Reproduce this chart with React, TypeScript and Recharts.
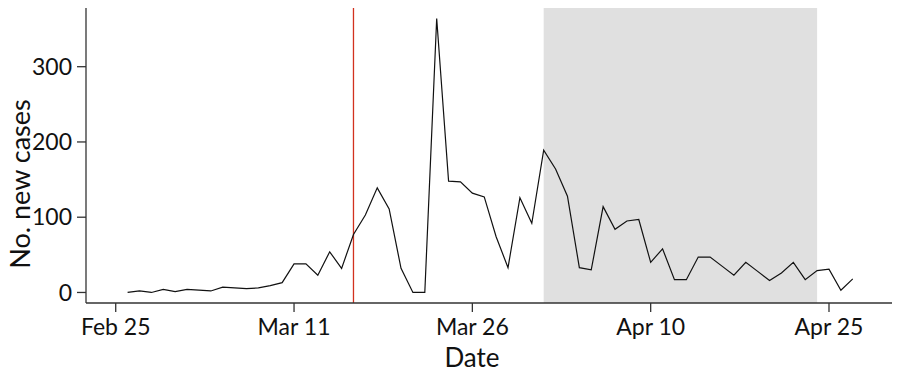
import { LineChart, Line, XAxis, YAxis, ReferenceArea, ReferenceLine } from "recharts";

// daily new cases, starting Feb 26 (day 1 = one day after Feb 25)
const cases = [
  0, 2, 0, 4, 1, 4, 3, 2, 7, 6, 5, 6, 9, 13, 38, 38, 23, 54, 32, 77,
  103, 139, 111, 32, 0, 0, 364, 148, 147, 132, 127, 74, 33, 126, 92, 189, 164, 128, 33, 30,
  114, 84, 95, 97, 40, 58, 17, 17, 47, 47, 35, 23, 40, 28, 16, 26, 40, 17, 29, 31,
  3, 18,
];

const tickDays = [0, 15, 30, 45, 60];
const tickLabels = ["Feb 25", "Mar 11", "Mar 26", "Apr 10", "Apr 25"];
const yTicks = [0, 100, 200, 300];

// red vertical marker (Mar 16) and shaded period (Apr 1 - Apr 24)
const markerDay = 20;
const shadeStart = 36;
const shadeEnd = 59;

const data = cases.map((v, i) => ({ day: i + 1, cases: v }));

const font = "Lato, 'Noto Sans', sans-serif";
const axisStroke = { stroke: "#333", strokeWidth: 1.3 };

const YLabel = () => (
  <text
    x={30}
    y={184}
    transform="rotate(-90, 30, 184)"
    textAnchor="middle"
    fontSize={27}
    fontFamily={font}
    fill="#111"
  >
    No. new cases
  </text>
);

const XLabel = () => (
  <text
    x={472}
    y={367}
    textAnchor="middle"
    fontSize={26}
    fontFamily={font}
    fill="#111"
  >
    Date
  </text>
);

export default function App() {
  return (
    <div
      style={{
        position: "absolute",
        top: 0,
        left: 0,
        width: 900,
        height: 374,
        background: "#fff",
      }}
    >
      <LineChart
        width={900}
        height={374}
        data={data}
        margin={{ top: 8, right: 8, bottom: 0, left: 0 }}
        style={{ overflow: "visible" }}
      >
        <ReferenceArea
          x1={shadeStart}
          x2={shadeEnd}
          fill="#e0e0e0"
          fillOpacity={1}
          stroke="none"
        />
        <XAxis
          type="number"
          dataKey="day"
          domain={[-2.5, 65.3]}
          allowDataOverflow
          ticks={tickDays}
          tickFormatter={(d: number) => tickLabels[tickDays.indexOf(d)]}
          height={71}
          tickSize={9}
          tickMargin={7}
          axisLine={axisStroke}
          tickLine={axisStroke}
          tick={{ fill: "#111", fontSize: 23, fontFamily: font }}
          label={<XLabel />}
        />
        <YAxis
          type="number"
          domain={[-14, 378]}
          allowDataOverflow
          ticks={yTicks}
          width={86}
          tickSize={9}
          tickMargin={5}
          axisLine={axisStroke}
          tickLine={axisStroke}
          tick={{ fill: "#111", fontSize: 23, fontFamily: font }}
          label={<YLabel />}
        />
        <ReferenceLine x={markerDay} stroke="#d2321e" strokeWidth={1.3} />
        <Line
          type="linear"
          dataKey="cases"
          stroke="#111"
          strokeWidth={1.2}
          dot={false}
          isAnimationActive={false}
        />
      </LineChart>
    </div>
  );
}
